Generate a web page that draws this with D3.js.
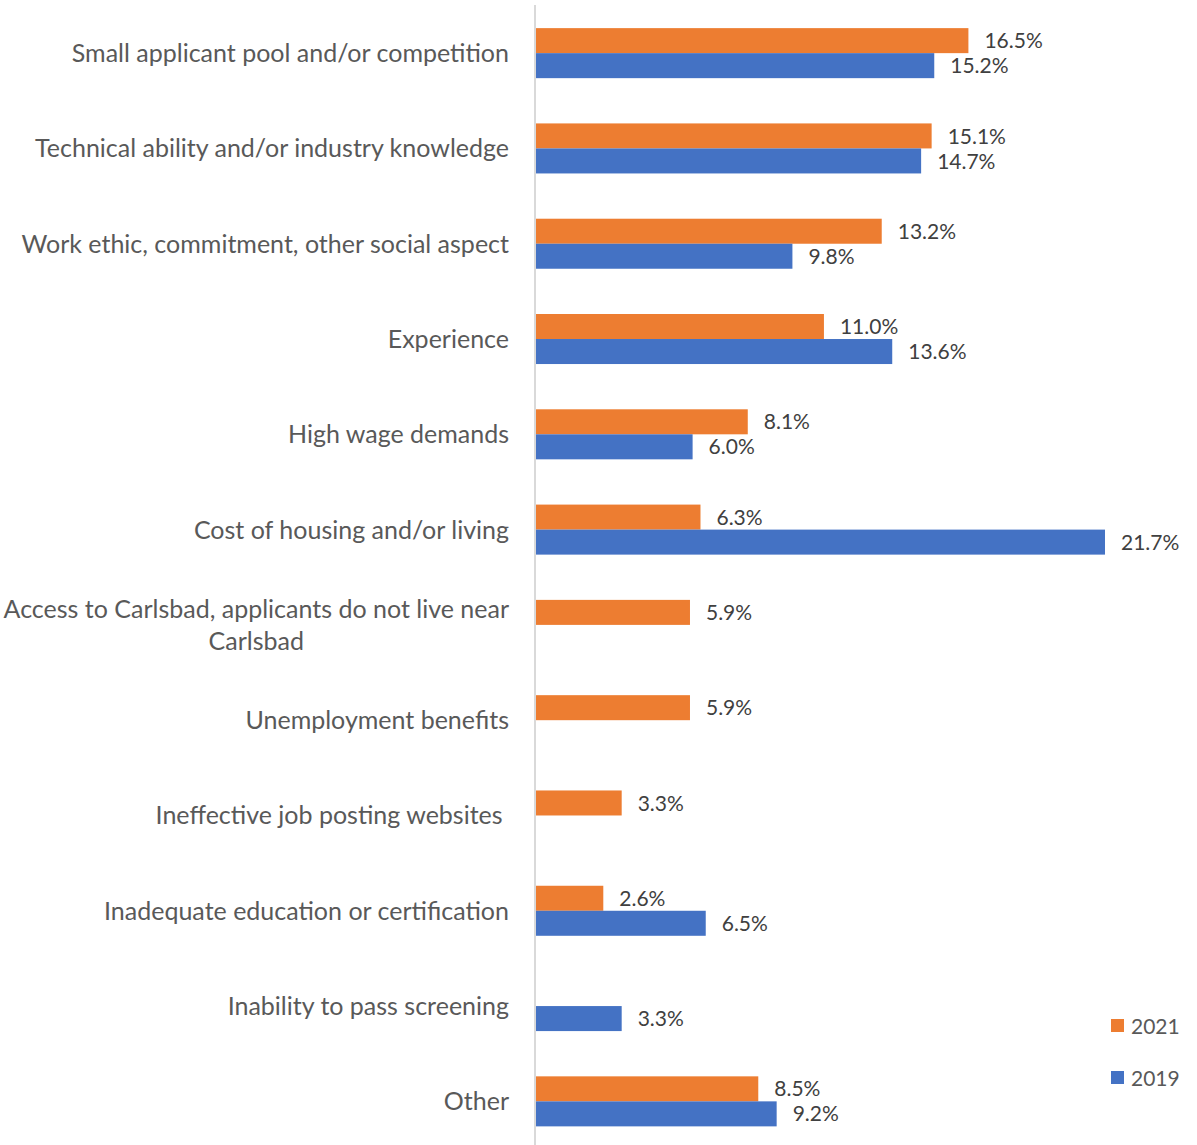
<!DOCTYPE html>
<html lang="en">
<head>
    <meta charset="UTF-8">
    <title>Hiring difficulties 2021 vs 2019</title>
    <script src="https://d3js.org/d3.v7.min.js"></script>
    <style>
        body { margin: 0; background: #fff; }
        svg { display: block; font-family: Lato, "Open Sans", sans-serif; }
        .cat { fill: #595959; font-size: 25px; white-space: pre; }
        .val { fill: #404040; font-size: 21px; }
        .leg { fill: #595959; font-size: 21px; }
    </style>
</head>
<body>
    <svg width="1197" height="1145"></svg>
    <script>
        var categories = [
            "Small applicant pool and/or competition",
            "Technical ability and/or industry knowledge",
            "Work ethic, commitment, other social aspect",
            "Experience",
            "High wage demands",
            "Cost of housing and/or living",
            "Access to Carlsbad, applicants do not live near|Carlsbad",
            "Unemployment benefits",
            "Ineffective job posting websites ",
            "Inadequate education or certification",
            "Inability to pass screening",
            "Other"
        ];
        var values2021 = [16.5, 15.1, 13.2, 11.0, 8.1, 6.3, 5.9, 5.9, 3.3, 2.6, null, 8.5];
        var values2019 = [15.2, 14.7, 9.8, 13.6, 6.0, 21.7, null, null, null, 6.5, 3.3, 9.2];
        var seriesNames = ["2021", "2019"];
        var colors = { "2021": "#ED7D31", "2019": "#4472C4" };

        var svg = d3.select("svg");
        var axisX = 535;

        var x = d3.scaleLinear()
            .domain([0, d3.max(values2019.concat(values2021))])
            .range([0, 570]);

        var y = d3.scaleBand()
            .domain(categories)
            .range([5.5, 1149])
            .paddingInner(0.475)
            .paddingOuter(0.2375);

        var ySub = d3.scaleBand()
            .domain(seriesNames)
            .range([0, y.bandwidth()]);

        var rows = categories.map(function(c, i) {
            return { cat: c, vals: [
                { s: "2021", v: values2021[i] },
                { s: "2019", v: values2019[i] }
            ] };
        });

        var g = svg.append("g").attr("transform", "translate(" + axisX + ",0)");

        var grp = g.selectAll(".grp")
            .data(rows)
            .join("g")
            .attr("class", "grp")
            .attr("transform", function(d) { return "translate(0," + y(d.cat) + ")"; });

        var items = grp.selectAll(".item")
            .data(function(d) { return d.vals.filter(function(e) { return e.v != null; }); })
            .join("g");

        items.append("rect")
            .attr("x", 0)
            .attr("y", function(d) { return ySub(d.s); })
            .attr("width", function(d) { return x(d.v); })
            .attr("height", ySub.bandwidth())
            .attr("fill", function(d) { return colors[d.s]; });

        items.append("text")
            .attr("class", "val")
            .attr("x", function(d) { return x(d.v) + 16; })
            .attr("y", function(d) { return ySub(d.s) + ySub.bandwidth() / 2; })
            .attr("dy", "0.36em")
            .text(function(d) { return d.v.toFixed(1) + "%"; });

        // category labels (wrapped ones are centred on the first line)
        rows.forEach(function(d) {
            var lines = d.cat.split("|");
            var cy = y(d.cat) + y.bandwidth() / 2;
            if (lines.length === 1) {
                svg.append("text").attr("class", "cat")
                    .attr("x", axisX - 26).attr("y", cy).attr("dy", "0.36em")
                    .attr("text-anchor", "end")
                    .text(lines[0]);
            } else {
                var t = svg.append("text").attr("class", "cat")
                    .attr("text-anchor", "middle");
                var first = t.append("tspan").text(lines[0]);
                var w = first.node().getComputedTextLength();
                var cx = axisX - 26 - w / 2;
                var lh = 32;
                lines.forEach(function(l, k) {
                    var sp = k === 0 ? first : t.append("tspan").text(l);
                    sp.attr("x", cx).attr("y", cy + (k - (lines.length - 1) / 2) * lh).attr("dy", "0.36em");
                });
            }
        });

        // vertical axis line
        svg.append("line")
            .attr("x1", axisX).attr("x2", axisX)
            .attr("y1", 5).attr("y2", 1145)
            .attr("stroke", "#d9d9d9").attr("stroke-width", 2);

        // legend
        var leg = svg.selectAll(".legitem")
            .data(seriesNames)
            .join("g")
            .attr("class", "legitem")
            .attr("transform", function(d, i) { return "translate(1111," + (1019 + i * 52) + ")"; });
        leg.append("rect").attr("width", 13).attr("height", 13)
            .attr("fill", function(d) { return colors[d]; });
        leg.append("text").attr("class", "leg")
            .attr("x", 20).attr("y", 7).attr("dy", "0.36em")
            .text(function(d) { return d; });
    </script>
</body>
</html>
